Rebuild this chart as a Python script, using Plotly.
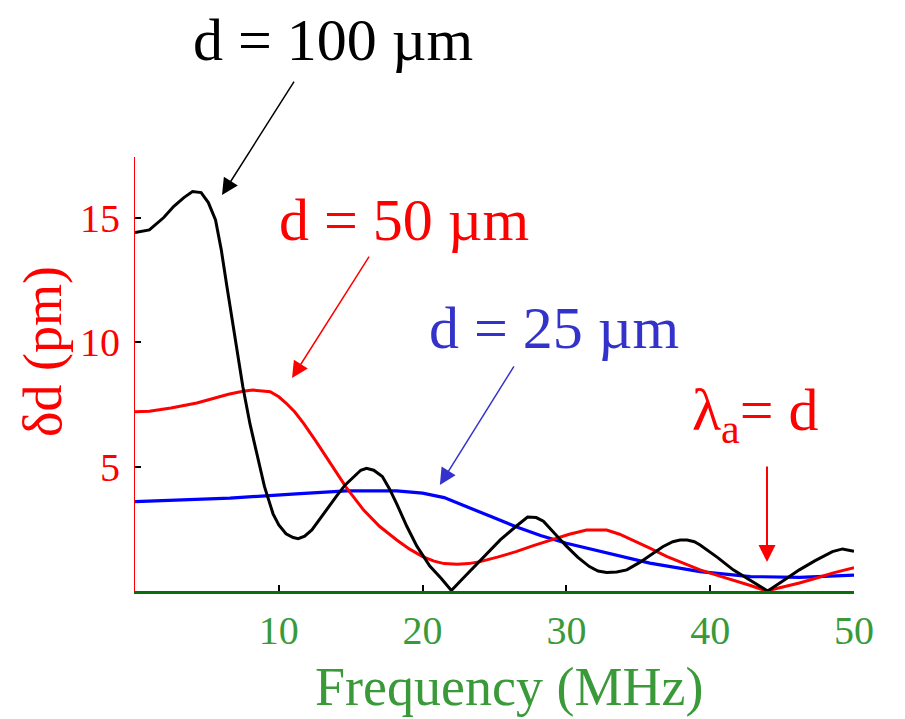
import plotly.graph_objects as go

# ---- data ----
freq_100 = [0, 1.0, 2.0, 2.7, 3.4, 4.0, 4.6, 5.1, 5.6, 6.0, 6.4, 7.0, 7.5, 8.0, 8.5, 9.0, 9.6, 10.0, 10.5, 11.0, 11.35, 11.8, 12.3, 13.1, 14.0, 14.6, 15.2, 15.7, 16.1, 16.6, 17.2, 17.7, 18.2, 18.9, 19.6, 20.5, 21.3, 22.0, 22.8, 23.7, 24.6, 25.4, 26.4, 27.3, 27.9, 28.4, 29.2, 30.0, 30.8, 31.6, 32.2, 32.8, 33.5, 34.2, 35.1, 36.0, 36.7, 37.4, 37.9, 38.4, 38.9, 39.3, 40.5, 41.6, 42.8, 44.0, 45.1, 46.2, 47.3, 48.5, 49.2, 50.0]
dd_100 = [14.4, 14.5, 15.0, 15.45, 15.8, 16.04, 16.0, 15.6, 14.9, 13.7, 12.2, 10.0, 8.2, 6.7, 5.5, 4.2, 3.1, 2.65, 2.3, 2.15, 2.1, 2.2, 2.45, 3.1, 3.8, 4.25, 4.6, 4.85, 4.93, 4.85, 4.6, 4.1, 3.5, 2.6, 1.8, 1.0, 0.5, 0.02, 0.5, 1.05, 1.6, 2.05, 2.55, 2.97, 2.95, 2.8, 2.3, 1.8, 1.35, 0.98, 0.8, 0.74, 0.76, 0.85, 1.15, 1.5, 1.78, 1.98, 2.05, 2.05, 1.98, 1.85, 1.35, 0.85, 0.42, 0.0, 0.42, 0.85, 1.22, 1.58, 1.69, 1.6]

freq_50 = [0, 1.0, 2.5, 4.3, 6.5, 7.5, 8.2, 9.4, 10.0, 10.5, 11.1, 11.7, 12.6, 13.6, 14.7, 15.9, 17.0, 18.2, 19.1, 20.0, 20.8, 21.5, 22.4, 23.2, 24.0, 25.2, 26.5, 27.7, 28.9, 30.2, 31.4, 32.8, 33.7, 34.6, 35.8, 37.0, 38.2, 39.3, 40.5, 41.6, 42.8, 43.9, 45.0, 46.2, 47.4, 48.5, 50.0]
dd_50 = [7.2, 7.22, 7.35, 7.55, 7.9, 8.02, 8.07, 8.0, 7.8, 7.55, 7.2, 6.75, 6.0, 5.13, 4.15, 3.25, 2.6, 2.05, 1.68, 1.38, 1.2, 1.1, 1.07, 1.1, 1.18, 1.36, 1.58, 1.82, 2.05, 2.28, 2.45, 2.45, 2.28, 2.05, 1.72, 1.38, 1.1, 0.85, 0.63, 0.44, 0.22, 0.0, 0.14, 0.32, 0.52, 0.72, 0.94]

freq_25 = [0, 3.0, 6.6, 11.2, 14.7, 18.2, 20.0, 21.5, 23.1, 24.8, 26.5, 28.2, 30.0, 32.8, 35.8, 39.3, 42.8, 46.2, 50.0]
dd_25 = [3.59, 3.65, 3.73, 3.9, 4.02, 4.02, 3.93, 3.75, 3.39, 2.98, 2.58, 2.23, 1.92, 1.52, 1.12, 0.78, 0.58, 0.55, 0.64]

x_ticks = [10, 20, 30, 40, 50]
y_ticks = [5, 10, 15]

FONT = "Liberation Serif, Times New Roman, serif"
RED = "#ff0000"
BLUE = "#0000ff"
GREEN_TXT = "#3a9a3a"
GREEN_AX = "#0a6e0a"

W, H = 905, 719
L, R, T, B = 135, 51, 157, 128

def px(xp):
    return (xp - L) / (W - L - R)

def py(yp):
    return (H - B - yp) / (H - T - B)

fig = go.Figure()
fig.add_trace(go.Scatter(x=freq_25, y=dd_25, mode="lines", line=dict(color=BLUE, width=3.2), hoverinfo="skip"))
fig.add_trace(go.Scatter(x=freq_50, y=dd_50, mode="lines", line=dict(color=RED, width=3), hoverinfo="skip"))
fig.add_trace(go.Scatter(x=freq_100, y=dd_100, mode="lines", line=dict(color="black", width=3), hoverinfo="skip"))

annotations = []
# arrows (tip in data coordinates, tail offset in pixels)
for (xt, yt, ax, ay, col, w) in [
    (6.05, 15.9, 73, -115, "black", 1.5),
    (10.92, 8.55, 78, -123, RED, 1.5),
    (21.2, 4.26, 75, -120, "#3333cc", 1.5),
    (43.95, 1.16, 0, -97, RED, 2),
]:
    annotations.append(dict(x=xt, y=yt, xref="x", yref="y", ax=ax, ay=ay, axref="pixel", ayref="pixel",
                            text="", showarrow=True, arrowhead=2, arrowsize=2.2 if w < 2 else 1.7,
                            arrowwidth=w, arrowcolor=col))

# labels
for (txt, xp, yp, col) in [
    ("d = 100 µm", 333, 40, "black"),
    ("d = 50 µm", 404, 220, RED),
    ("d = 25 µm", 554, 328, "#3333cc"),
    ("λ<sub>a</sub>= d", 755, 414, RED),
]:
    annotations.append(dict(x=px(xp), y=py(yp), xref="paper", yref="paper", text=txt, showarrow=False,
                            xanchor="center", yanchor="middle", font=dict(family=FONT, size=60, color=col)))

# axis titles
annotations.append(dict(x=px(509), y=py(687), xref="paper", yref="paper", text="Frequency (MHz)", showarrow=False,
                        xanchor="center", yanchor="middle", font=dict(family=FONT, size=54, color=GREEN_TXT)))
annotations.append(dict(x=px(43), y=py(352), xref="paper", yref="paper", text="δd (pm)", showarrow=False, textangle=-90,
                        xanchor="center", yanchor="middle", font=dict(family=FONT, size=54, color=RED)))

fig.update_layout(
    width=W, height=H,
    margin=dict(l=L, r=R, t=T, b=B),
    paper_bgcolor="white", plot_bgcolor="white",
    showlegend=False,
    annotations=annotations,
    xaxis=dict(range=[0, 50], tickvals=x_ticks, ticks="inside", ticklen=6, tickwidth=2, tickcolor="black",
               showline=True, linecolor=GREEN_AX, linewidth=3, showgrid=False, zeroline=False,
               tickfont=dict(family=FONT, size=40, color=GREEN_TXT), ticklabelstandoff=2),
    yaxis=dict(range=[0, 17.43], tickvals=y_ticks, ticks="inside", ticklen=6, tickwidth=2, tickcolor="black",
               showline=True, linecolor=RED, linewidth=1, showgrid=False, zeroline=False,
               tickfont=dict(family=FONT, size=40, color=RED), ticklabelstandoff=6),
)

fig.write_html("out.html", config={"displayModeBar": False},
               post_script="document.body.style.margin='0px';")
